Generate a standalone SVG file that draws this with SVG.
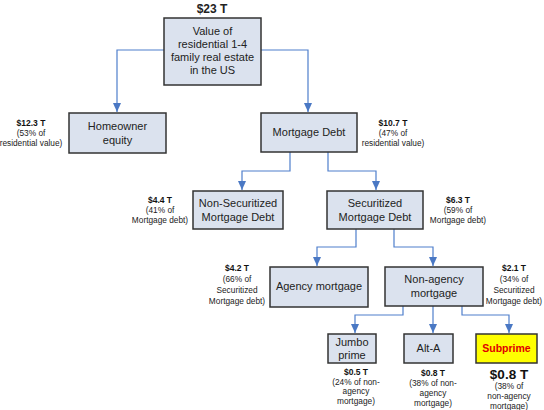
<svg xmlns="http://www.w3.org/2000/svg" width="544" height="410" viewBox="0 0 544 410">
<defs>
<style>
.box{fill:#dbe2ee;stroke:#333;stroke-width:1.5}
.sub{fill:#ffff00;stroke:#333;stroke-width:1.5}
.bt{font-family:"Liberation Sans",Arial,sans-serif;font-size:11px;fill:#222;text-anchor:middle}
.lb{font-family:"Liberation Sans",Arial,sans-serif;font-size:8.3px;fill:#222;text-anchor:middle}
.lbb{font-family:"Liberation Sans",Arial,sans-serif;font-size:8.5px;font-weight:bold;fill:#111;text-anchor:middle}
.con{fill:none;stroke:#4f7fcc;stroke-width:1.2;marker-end:url(#ah)}
</style>
<marker id="ah" markerWidth="9" markerHeight="8" refX="9" refY="4" orient="auto" markerUnits="userSpaceOnUse" viewBox="0 0 9 8">
<path d="M0,0 L9,4 L0,8 Z" fill="#4a78c4"/>
</marker>
</defs>
<rect width="544" height="410" fill="#fff"/>
<g id="connectors">
<path class="con" d="M164,50 H117 V112"/>
<path class="con" d="M261,50 H308 V112"/>
<path class="con" d="M290,152 V171 H242 V190"/>
<path class="con" d="M328,152 V171 H376 V190"/>
<path class="con" d="M356,229 V247 H317 V266"/>
<path class="con" d="M394,229 V247 H433 V266"/>
<path class="con" d="M403,306 V315 H355 V333"/>
<path class="con" d="M433,306 V333"/>
<path class="con" d="M462,306 V315 H509 V333"/>
</g>
<g id="n_top">
<text class="bt" x="212" y="13" style="font-weight:bold;font-size:12px">$23 T</text>
<rect class="box" x="164" y="18" width="97" height="67"/>
<text class="bt" x="212.5" y="35">Value of</text>
<text class="bt" x="212.5" y="48">residential 1-4</text>
<text class="bt" x="212.5" y="61">family real estate</text>
<text class="bt" x="212.5" y="74">in the US</text>
</g>
<g id="n_equity">
<rect class="box" x="69" y="113" width="97" height="40"/>
<text class="bt" x="117.5" y="130">Homeowner</text>
<text class="bt" x="117.5" y="144">equity</text>
<text class="lbb" x="31" y="126">$12.3 T</text>
<text class="lb" x="31" y="136">(53% of</text>
<text class="lb" x="31" y="146">residential value)</text>
</g>
<g id="n_mortgage">
<rect class="box" x="261" y="113" width="96" height="39"/>
<text class="bt" x="309" y="136">Mortgage Debt</text>
<text class="lbb" x="393" y="126">$10.7 T</text>
<text class="lb" x="393" y="136">(47% of</text>
<text class="lb" x="393" y="146">residential value)</text>
</g>
<g id="n_nonsec">
<rect class="box" x="193" y="191" width="90" height="38"/>
<text class="bt" x="238" y="207">Non-Securitized</text>
<text class="bt" x="238" y="221">Mortgage Debt</text>
<text class="lbb" x="160" y="203">$4.4 T</text>
<text class="lb" x="160" y="213">(41% of</text>
<text class="lb" x="160" y="223">Mortgage debt)</text>
</g>
<g id="n_sec">
<rect class="box" x="327" y="191" width="96" height="38"/>
<text class="bt" x="375" y="207">Securitized</text>
<text class="bt" x="375" y="221">Mortgage Debt</text>
<text class="lbb" x="458" y="203">$6.3 T</text>
<text class="lb" x="458" y="213">(59% of</text>
<text class="lb" x="458" y="223">Mortgage debt)</text>
</g>
<g id="n_agency">
<rect class="box" x="270" y="267" width="98" height="40"/>
<text class="bt" x="319" y="290">Agency mortgage</text>
<text class="lbb" x="237" y="271">$4.2 T</text>
<text class="lb" x="237" y="282">(66% of</text>
<text class="lb" x="237" y="293">Securitized</text>
<text class="lb" x="237" y="304">Mortgage debt)</text>
</g>
<g id="n_nonagency">
<rect class="box" x="385" y="267" width="98" height="39"/>
<text class="bt" x="434" y="283">Non-agency</text>
<text class="bt" x="434" y="297">mortgage</text>
<text class="lbb" x="514" y="271">$2.1 T</text>
<text class="lb" x="514" y="282">(34% of</text>
<text class="lb" x="514" y="293">Securitized</text>
<text class="lb" x="514" y="304">Mortgage debt)</text>
</g>
<g id="n_jumbo">
<rect class="box" x="328" y="334" width="48" height="29"/>
<text class="bt" x="352" y="346">Jumbo</text>
<text class="bt" x="352" y="359">prime</text>
<text class="lbb" x="356" y="375">$0.5 T</text>
<text class="lb" x="356" y="384.5">(24% of non-</text>
<text class="lb" x="356" y="394">agency</text>
<text class="lb" x="356" y="403.5">mortgage)</text>
</g>
<g id="n_alta">
<rect class="box" x="404" y="334" width="49" height="29"/>
<text class="bt" x="428.5" y="352">Alt-A</text>
<text class="lbb" x="433" y="376">$0.8 T</text>
<text class="lb" x="433" y="386">(38% of non-</text>
<text class="lb" x="433" y="396">agency</text>
<text class="lb" x="433" y="406">mortgage)</text>
</g>
<g id="n_subprime">
<rect class="sub" x="476" y="334" width="61" height="29"/>
<text class="bt" x="506.5" y="352" style="font-weight:bold;font-size:10.5px;fill:#e00000">Subprime</text>
<text class="bt" x="509" y="379" style="font-weight:bold;font-size:13.5px;fill:#111">$0.8 T</text>
<text class="lb" x="509" y="389">(38% of</text>
<text class="lb" x="509" y="399">non-agency</text>
<text class="lb" x="509" y="408.5">mortgage)</text>
</g>
</svg>
